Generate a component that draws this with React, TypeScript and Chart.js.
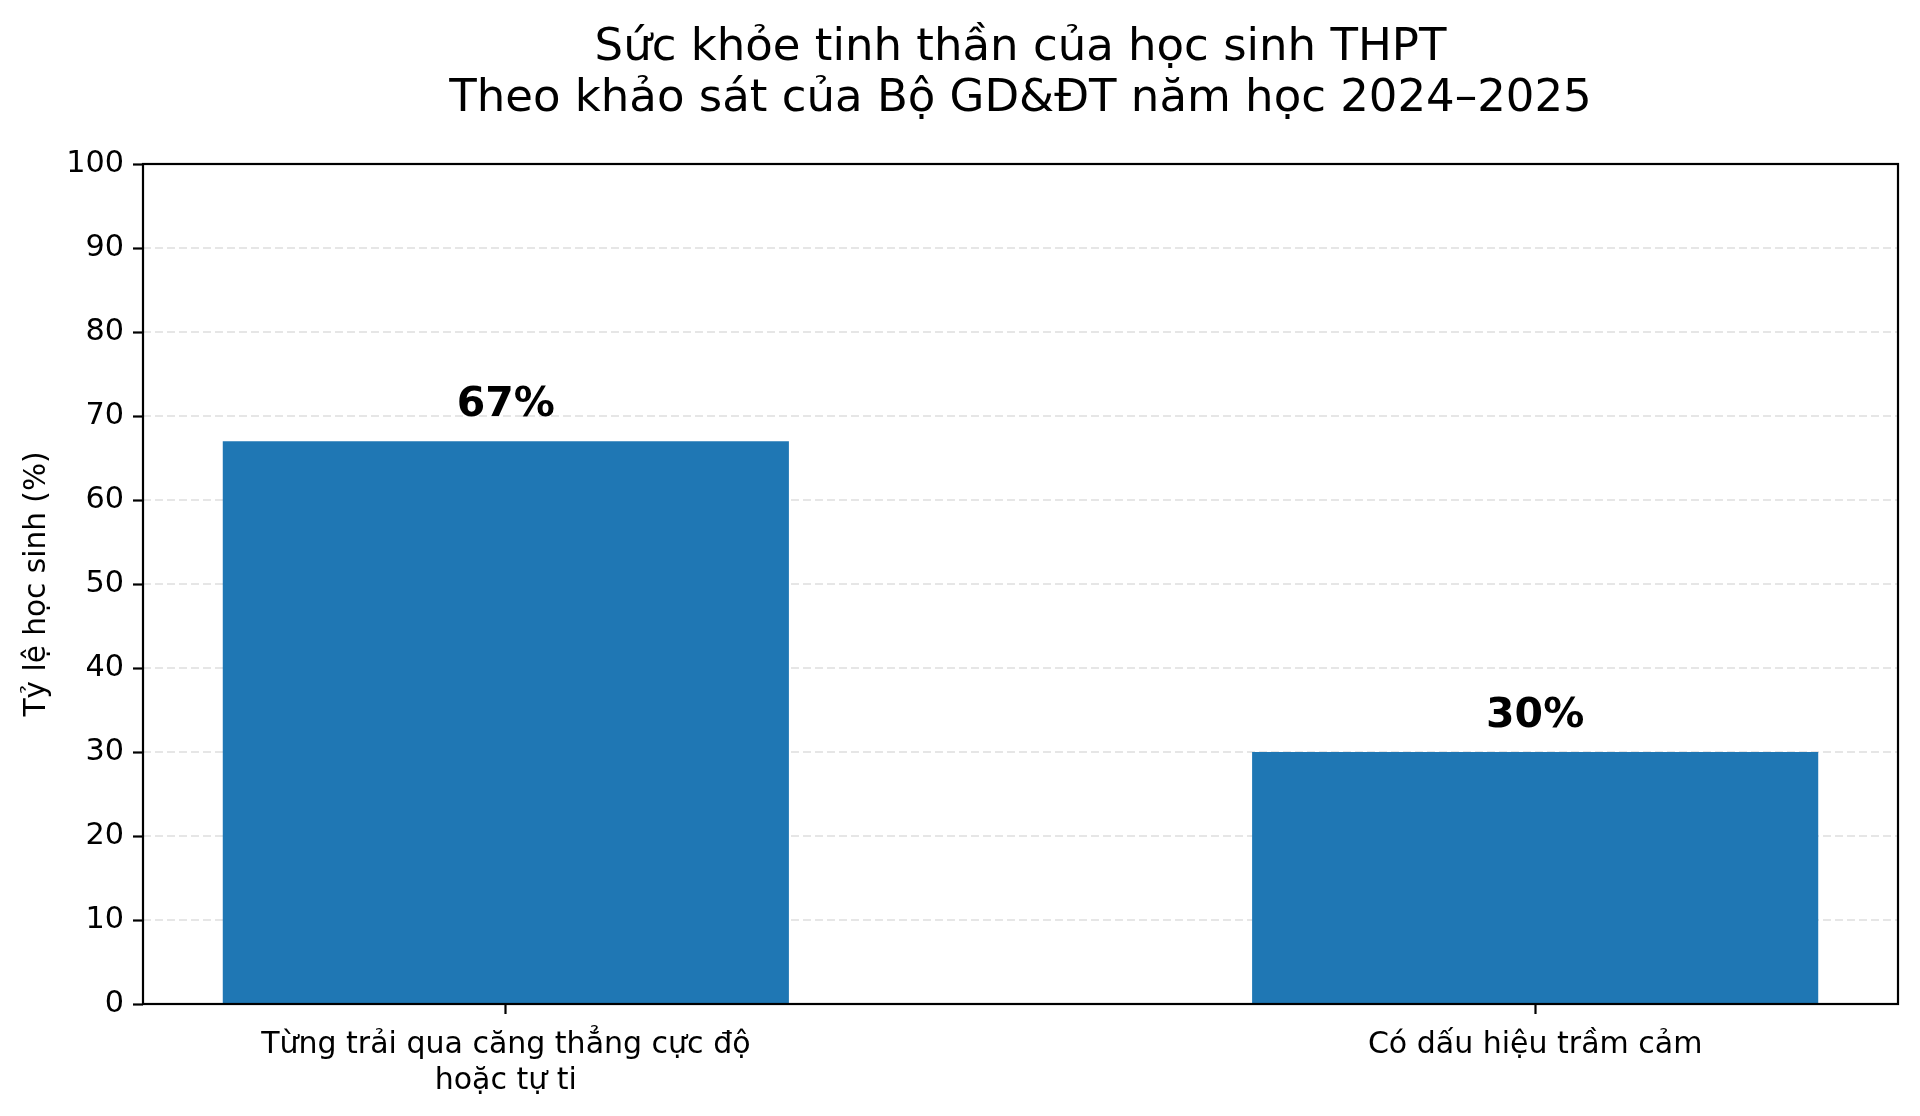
import { useRef, useEffect } from "react";
import { Chart, registerables } from "chart.js";

Chart.register(...registerables);

// chart data
const categories = [
  ["Từng trải qua căng thẳng cực độ", "hoặc tự ti"],
  ["Có dấu hiệu trầm cảm"],
];
const values = [67, 30];
const valueLabels = ["67%", "30%"];
const yTicks = [0, 10, 20, 30, 40, 50, 60, 70, 80, 90, 100];
const titleLines = [
  "Sức khỏe tinh thần của học sinh THPT",
  "Theo khảo sát của Bộ GD&ĐT năm học 2024–2025",
];
const yTitle = "Tỷ lệ học sinh (%)";

const FONT = "'DejaVu Sans', sans-serif";
const BAR_COLOR = "#1f77b4";

// frame, dashed grid, titles and bar labels
const decorPlugin = {
  id: "decor",
  beforeDatasetsDraw(chart: any) {
    const { ctx, chartArea } = chart;
    const y = chart.scales.y;
    ctx.save();
    ctx.strokeStyle = "#e6e6e6";
    ctx.lineWidth = 2.2;
    ctx.setLineDash([8, 4]);
    yTicks.slice(1, -1).forEach((t) => {
      const py = y.getPixelForValue(t);
      ctx.beginPath();
      ctx.moveTo(chartArea.left, py);
      ctx.lineTo(chartArea.right, py);
      ctx.stroke();
    });
    ctx.restore();
  },
  afterDatasetsDraw(chart: any) {
    const { ctx, chartArea } = chart;
    const y = chart.scales.y;
    const meta = chart.getDatasetMeta(0);
    ctx.save();

    // bar value labels
    ctx.fillStyle = "#000";
    ctx.font = `bold 41px ${FONT}`;
    ctx.textAlign = "center";
    ctx.textBaseline = "alphabetic";
    meta.data.forEach((bar: any, i: number) => {
      ctx.fillText(valueLabels[i], bar.x, y.getPixelForValue(values[i] + 3));
    });

    // frame
    ctx.strokeStyle = "#000";
    ctx.lineWidth = 2.2;
    ctx.strokeRect(
      chartArea.left,
      chartArea.top,
      chartArea.right - chartArea.left,
      chartArea.bottom - chartArea.top
    );

    // title
    const cx = (chartArea.left + chartArea.right) / 2;
    ctx.font = `45px ${FONT}`;
    ctx.textBaseline = "middle";
    ctx.fillText(titleLines[0], cx, 48);
    ctx.fillText(titleLines[1], cx, 99);

    // y axis title
    ctx.translate(37, (chartArea.top + chartArea.bottom) / 2);
    ctx.rotate(-Math.PI / 2);
    ctx.font = `29.6px ${FONT}`;
    ctx.fillText(yTitle, 0, 0);
    ctx.restore();
  },
};

export default function App() {
  const canvasRef = useRef<HTMLCanvasElement>(null);
  const chartRef = useRef<Chart | null>(null);

  useEffect(() => {
    document.body.style.margin = "0";
    const ctx = canvasRef.current?.getContext("2d");
    if (!ctx) return;
    if (chartRef.current) chartRef.current.destroy();

    chartRef.current = new Chart(ctx, {
      type: "bar",
      data: {
        datasets: [
          {
            data: values.map((v, i) => ({ x: i, y: v })),
            backgroundColor: BAR_COLOR,
            borderWidth: 0,
            categoryPercentage: 1,
            barPercentage: 0.55,
          },
        ],
      },
      options: {
        animation: false,
        responsive: true,
        maintainAspectRatio: false,
        layout: { padding: { top: 164, right: 22, left: 0, bottom: 0 } },
        plugins: {
          legend: { display: false },
          title: { display: false },
          tooltip: { enabled: false },
        },
        scales: {
          x: {
            type: "linear",
            min: -0.3525,
            max: 1.3525,
            offset: false,
            afterBuildTicks: (scale: any) => {
              scale.ticks = categories.map((_, i) => ({ value: i }));
            },
            afterFit: (scale: any) => {
              scale.height = 112;
            },
            ticks: {
              autoSkip: false,
              maxRotation: 0,
              padding: 13,
              color: "#000",
              font: { family: FONT, size: 30 },
              callback: (v: any) => categories[v] ?? "",
            },
            grid: {
              offset: false,
              drawOnChartArea: false,
              drawTicks: true,
              tickLength: 10,
              tickColor: "#000",
              tickWidth: 2.2,
            },
            border: { display: false },
          },
          y: {
            type: "linear",
            min: 0,
            max: 100,
            afterBuildTicks: (scale: any) => {
              scale.ticks = yTicks.map((t) => ({ value: t }));
            },
            afterFit: (scale: any) => {
              scale.width = 143;
            },
            ticks: {
              padding: 9,
              color: "#000",
              font: { family: FONT, size: 30.3 },
            },
            grid: {
              drawOnChartArea: false,
              drawTicks: true,
              tickLength: 10,
              tickColor: "#000",
              tickWidth: 2.2,
            },
            border: { display: false },
          },
        },
      },
      plugins: [decorPlugin],
    });

    return () => {
      if (chartRef.current) {
        chartRef.current.destroy();
        chartRef.current = null;
      }
    };
  }, []);

  return (
    <div style={{ width: "1920px", height: "1116px", background: "#fff" }}>
      <canvas ref={canvasRef} />
    </div>
  );
}
